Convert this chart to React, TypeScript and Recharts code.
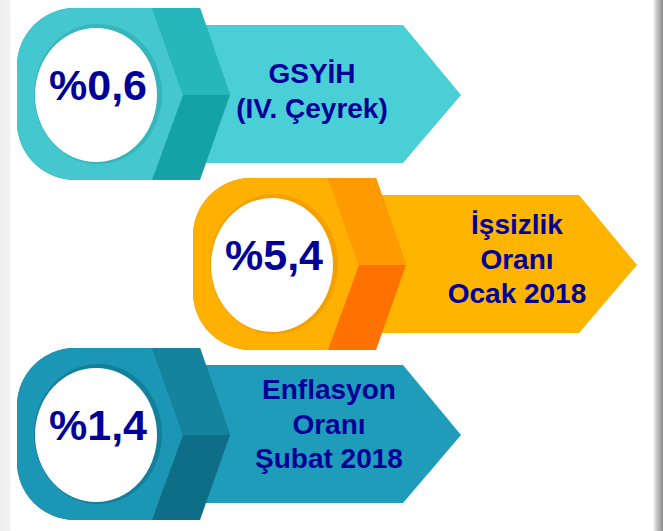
import React from 'react';
import { BarChart, Bar, XAxis, YAxis } from 'recharts';

// indicator values (percent) and their captions
const KEYS = ['gsyih', 'issizlik', 'enflasyon'];
const VALUES = [0.6, 5.4, 1.4];
const CAPTIONS = [
  ['GSYİH', '(IV. Çeyrek)'],
  ['İşsizlik', 'Oranı', 'Ocak 2018'],
  ['Enflasyon', 'Oranı', 'Şubat 2018'],
];

// style per row: arrow, bolt body, band top, band bottom, ring shade
const PALETTES = [
  { arrow: '#4BCFD6', body: '#44C7CE', bandTop: '#25B7BC', bandBottom: '#15A2A7', ring: '#35B5BC' },
  { arrow: '#FFB400', body: '#FFB000', bandTop: '#FF9A00', bandBottom: '#FF7100', ring: '#F5A000' },
  { arrow: '#1E9CBA', body: '#1B97B5', bandTop: '#15829E', bandBottom: '#0E6D87', ring: '#127F9C' },
];
const LEFT = [17, 193, 17];
const TEXT_X = [295, 324, 312];
const TEXT_TOP = [-12, -31, -36];
const NAVY = '#000099';
const FONT = '"Liberation Sans", Arial, sans-serif';

const data = KEYS.map((k, i) => ({ name: k, value: VALUES[i] }));

const fmt = (v: number) => '%' + v.toFixed(1).replace('.', ',');

const Badge = (props: any) => {
  const { y, height, index } = props;
  const p = PALETTES[index];
  const x0 = LEFT[index];
  const cy = y + height / 2;
  const T = cy - 87;
  const B = cy + 85;
  const r = 58;
  const left = `L ${x0 + r},${B} A ${r} ${r} 0 0 1 ${x0},${B - r} L ${x0},${T + r} A ${r} ${r} 0 0 1 ${x0 + r},${T} Z`;
  const outer = `M ${x0 + r},${T} L ${x0 + 183},${T} L ${x0 + 213},${cy} L ${x0 + 183},${B} ${left}`;
  const body = `M ${x0 + r},${T} L ${x0 + 135},${T} L ${x0 + 166},${cy} L ${x0 + 135},${B} ${left}`;
  const arrow = `M ${x0 + 150},${cy - 70} L ${x0 + 386},${cy - 70} L ${x0 + 444},${cy} L ${x0 + 386},${cy + 68} L ${x0 + 150},${cy + 68} Z`;
  const lines = CAPTIONS[index];
  return (
    <g>
      <path d={arrow} fill={p.arrow} />
      <path d={outer} fill={p.bandBottom} />
      <polygon
        points={`${x0 + 135},${T} ${x0 + 183},${T} ${x0 + 213},${cy} ${x0 + 166},${cy}`}
        fill={p.bandTop}
      />
      <path d={body} fill={p.body} />
      <ellipse cx={x0 + 81} cy={cy - 1} rx={64} ry={70} fill={p.ring} />
      <ellipse cx={x0 + 79} cy={cy} rx={61} ry={67} fill="#FFFFFF" />
      <text
        x={x0 + 81}
        y={cy + 5}
        textAnchor="middle"
        fontFamily={FONT}
        fontWeight="bold"
        fontSize={43}
        fill={NAVY}
      >
        {fmt(VALUES[index])}
      </text>
      {lines.map((t, j) => (
        <text
          key={j}
          x={x0 + TEXT_X[index]}
          y={cy + TEXT_TOP[index] + j * 34.5}
          textAnchor="middle"
          fontFamily={FONT}
          fontWeight="bold"
          fontSize={28}
          fill={NAVY}
        >
          {t}
        </text>
      ))}
    </g>
  );
};

export default function App() {
  return (
    <div
      style={{
        position: 'absolute',
        left: 0,
        top: 0,
        width: 663,
        height: 531,
        background:
          'linear-gradient(to right, #EFEFEF 0px, #F2F2F2 10px, #FFFFFF 11px, #FFFFFF 653px, #D0D0D0 656px, #8C8C8C 663px)',
      }}
    >
      <BarChart
        width={663}
        height={531}
        data={data}
        layout="vertical"
        barCategoryGap={0}
        margin={{ top: 10, right: 0, bottom: 11, left: 0 }}
      >
        <XAxis type="number" hide domain={[0, 10]} />
        <YAxis type="category" dataKey="name" hide />
        <Bar dataKey="value" shape={<Badge />} isAnimationActive={false} />
      </BarChart>
    </div>
  );
}
